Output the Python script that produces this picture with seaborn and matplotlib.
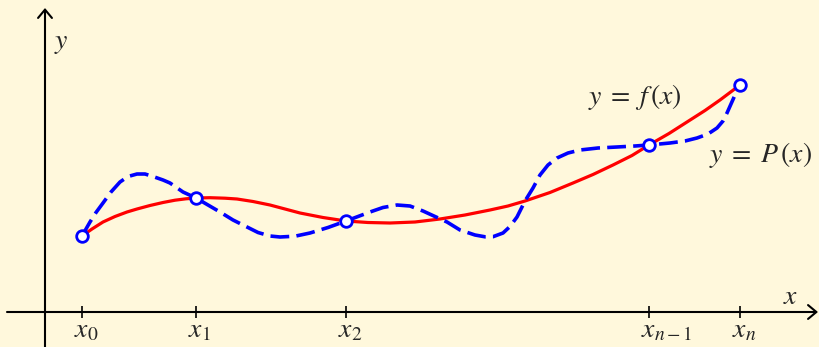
import matplotlib
matplotlib.use("Agg")
import matplotlib.pyplot as plt
import numpy as np
import pandas as pd
import seaborn as sns

# Interpolation nodes x_0, x_1, x_2, x_{n-1}, x_n and their function values
node_x = [37, 151, 301, 604, 695]
node_y = [76, 114, 91, 167, 227]
node_labels = [r"$x_0$", r"$x_1$", r"$x_2$", r"$x_{n-1}$", r"$x_n$"]

# The function y = f(x)
f_x = [37, 47, 58, 70, 82, 92, 105, 118, 130, 141, 151, 165, 180, 192,
       208, 225, 240, 255, 278, 301, 323, 345, 370, 395, 420, 445, 463,
       480, 505, 528, 548, 568, 587, 604, 624, 642, 660, 675, 695]
f_y = [76, 83, 90, 95.5, 100, 103, 106.5, 109.5, 111.8, 113.2, 114, 114.3,
       113.8, 113, 110.5, 107, 103, 99, 94.5, 91, 89.5, 89, 90, 93, 97,
       102, 106, 111, 119.5, 129, 137.5, 147, 156.5, 167, 178.5, 190,
       201.5, 212, 227]

# The interpolating polynomial y = P(x)
p_x = [37, 41, 45, 51, 58, 66, 75, 83, 92, 100, 108, 118, 125, 138, 151,
       163, 175, 188, 202, 213, 225, 235, 250, 265, 283, 301, 313, 325,
       338, 352, 365, 378, 390, 402, 415, 430, 440, 448, 458, 465, 472,
       480, 488, 495, 503, 512, 523, 535, 553, 572, 590, 604, 625, 640,
       652, 663, 672, 678, 682, 686, 690, 695]
p_y = [76, 83, 90, 99.5, 109, 120, 130, 135.5, 138, 138, 135.5, 132, 129,
       120, 114, 107, 100, 92, 85, 79.5, 76, 75, 75.8, 79, 84.5, 91, 95.5,
       100, 104.5, 107, 106, 101, 95.5, 90, 82, 77, 75.2, 75.3, 79, 85.5,
       95, 111, 124, 137, 147, 154, 159, 162, 164, 165, 166, 167, 169, 171,
       174, 178, 184, 191, 199, 208, 217, 227]

bg = "#fff8dc"
sns.set_theme(style="white", rc={"axes.facecolor": bg, "figure.facecolor": bg})
plt.rcParams["mathtext.fontset"] = "stix"
plt.rcParams["font.family"] = ["STIXGeneral", "DejaVu Serif"]

fig = plt.figure(figsize=(8.2, 3.47), dpi=100)
ax = fig.add_axes([0, 0, 1, 1])
ax.set_xlim(-45, 775)
ax.set_ylim(-35, 312)
ax.set_axis_off()

# Coordinate axes with open arrowheads
arrow = dict(arrowstyle="->,head_length=0.6,head_width=0.5", color="black",
             lw=1.5, shrinkA=0, shrinkB=0, mutation_scale=10)
ax.annotate("", xy=(773, 0), xytext=(-38, 0), arrowprops=arrow)
ax.annotate("", xy=(0, 304), xytext=(0, -35), arrowprops=arrow)

# Node ticks on the x-axis
ax.vlines(node_x, -6, 6, color="black", lw=1.2)
for xv, lab in zip(node_x, node_labels):
    ax.text(xv - 8, -25, lab, ha="left", va="baseline", fontsize=20)

df_f = pd.DataFrame({"x": f_x, "y": f_y})
df_p = pd.DataFrame({"x": p_x, "y": p_y})
df_n = pd.DataFrame({"x": node_x, "y": node_y})

sns.lineplot(data=df_f, x="x", y="y", ax=ax, color="#ff0000", lw=2.3,
             sort=False, estimator=None, zorder=3)
sns.lineplot(data=df_p, x="x", y="y", ax=ax, color="#0000ff", lw=2.6,
             sort=False, estimator=None, zorder=4, dashes=False)
ax.lines[-1].set_dashes([5.2, 2.0])
ax.lines[-1].set_dash_capstyle("butt")
sns.scatterplot(data=df_n, x="x", y="y", ax=ax, s=70, color="white",
                edgecolor="#0000ff", linewidth=2.0, zorder=5)

ax.text(590, 215, r"$y\;=\;f\,(x)$", ha="center", va="center", fontsize=20)
ax.text(767, 157, r"$y\;=\;P\,(x)$", ha="right", va="center", fontsize=20)
ax.text(16, 269, r"$y$", ha="center", va="center", fontsize=20)
ax.text(746, 15, r"$x$", ha="center", va="center", fontsize=20)

ax.set_xlabel("")
ax.set_ylabel("")
fig.savefig("out.png", dpi=100, facecolor=bg)
